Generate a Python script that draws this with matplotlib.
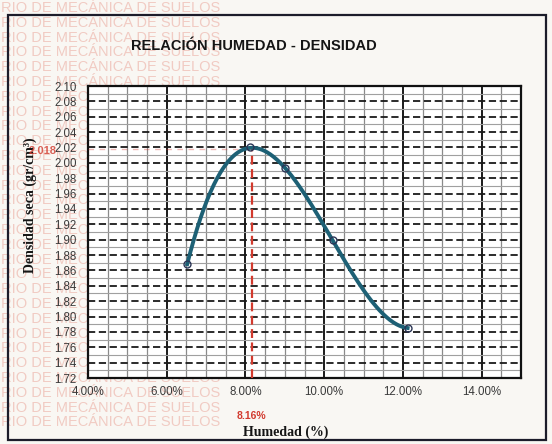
import numpy as np
import matplotlib.pyplot as plt
from matplotlib.patches import Rectangle
from matplotlib.ticker import FixedLocator, MultipleLocator

plt.rcParams['font.family'] = ['Liberation Sans', 'DejaVu Sans']

# 数据：含水率 (%) 与干密度 (gr/cm3)
humedad = [6.52, 8.12, 9.00, 10.22, 12.12]
densidad = [1.868, 2.020, 1.993, 1.899, 1.785]
opt_humedad = 8.16
max_densidad = 2.018
x_ticks = [4, 6, 8, 10, 12, 14]
y_ticks = [1.72, 1.74, 1.76, 1.78, 1.80, 1.82, 1.84, 1.86, 1.88, 1.90,
           1.92, 1.94, 1.96, 1.98, 2.00, 2.02, 2.04, 2.06, 2.08, 2.10]

W, H = 552, 444
XMIN, XMAX = 4, 15
YMIN, YMAX = 1.72, 2.10
AX_L, AX_R, AX_T, AX_B = 88, 521, 86, 378

LINE_COLOR = '#1d6075'
RED = '#d23a2e'
PINK = '#f1cbc3'


def px(x, y):
    """像素坐标 -> figure 坐标"""
    return x / W, 1 - y / H


fig = plt.figure(figsize=(W / 100, H / 100), dpi=100)
fig.patch.set_facecolor('#f9f7f3')

# 背景水印
for k in range(29):
    yy = 8 + k * 14.8
    fig.text(*px(1, yy), 'RIO DE MECÁNICA DE SUELOS', color=PINK,
             fontsize=10.5, va='center', ha='left', zorder=0)

# 外框
fig.add_artist(Rectangle(px(8, 440), (546 - 8) / W, (440 - 15) / H,
                         transform=fig.transFigure, fill=False,
                         edgecolor='#1c1c2a', linewidth=1.6, zorder=1))

l, b = px(AX_L, AX_B)
ax = fig.add_axes([l, b, (AX_R - AX_L) / W, (AX_B - AX_T) / H])
ax.set_zorder(2)
ax.set_facecolor('white')
ax.set_xlim(XMIN, XMAX)
ax.set_ylim(YMIN, YMAX)

ax.xaxis.set_major_locator(FixedLocator(x_ticks))
ax.xaxis.set_minor_locator(MultipleLocator(0.5))
ax.yaxis.set_major_locator(FixedLocator(y_ticks))
ax.yaxis.set_minor_locator(MultipleLocator(0.01))
ax.set_xticklabels([f'{v:.2f}%' for v in x_ticks])
ax.set_yticklabels([f'{v:.2f}' for v in y_ticks])
ax.tick_params(which='both', length=0, labelsize=8.3, labelcolor='#3a3a3a')
ax.tick_params(axis='x', pad=6)
ax.tick_params(axis='y', pad=8)

ax.grid(which='minor', axis='x', color='#8a8a8a', linewidth=0.9)
ax.grid(which='major', axis='x', color='#1a1a1a', linewidth=1.4)
ax.grid(which='minor', axis='y', color='#a0a0a0', linewidth=0.8)
ax.grid(which='major', axis='y', color='#1a1a1a', linewidth=1.3,
        linestyle=(0, (4, 2)))
ax.set_axisbelow(True)
for s in ax.spines.values():
    s.set_linewidth(1.6)
    s.set_color('#111111')

# 最优含水率参考线
ax.plot([opt_humedad, opt_humedad], [YMIN, max_densidad], color=RED,
        linewidth=1.6, linestyle=(0, (4, 2)), zorder=3)
ax.plot([XMIN, opt_humedad], [max_densidad, max_densidad], color=RED,
        linewidth=1.0, linestyle=(0, (4, 4)), alpha=0.35, zorder=3)

# 三次多项式趋势线
coef = np.polyfit(humedad, densidad, 3)
xs = np.linspace(min(humedad), max(humedad), 200)
ax.plot(xs, np.polyval(coef, xs), color=LINE_COLOR, linewidth=2.8, zorder=4)
ax.plot(humedad, densidad, linestyle='none', marker='o', markersize=5,
        markerfacecolor='none', markeredgecolor='#2b3556',
        markeredgewidth=1.0, zorder=5)

fig.text(*px(254, 46), 'RELACIÓN HUMEDAD - DENSIDAD', fontsize=10.5,
         fontweight='bold', ha='center', va='center', color='#151515')
fig.text(*px(30, 205), 'Densidad seca (gr/cm³)', rotation=90,
         family=['Liberation Serif', 'DejaVu Serif'], fontsize=10,
         fontweight='bold', ha='center', va='center', color='#151515')
fig.text(*px(286, 432), 'Humedad (%)', family=['Liberation Serif', 'DejaVu Serif'],
         fontsize=10, fontweight='bold', ha='center', va='center',
         color='#151515')
fig.text(*px(251, 416), f'{opt_humedad:.2f}%', fontsize=7.5, fontweight='bold',
         ha='center', va='center', color=RED)
fig.text(*px(57, 151), f'{max_densidad:.3f}', fontsize=8, fontweight='bold',
         ha='right', va='center', color=RED, alpha=0.8)

fig.savefig('out.png', dpi=100, facecolor=fig.get_facecolor())
